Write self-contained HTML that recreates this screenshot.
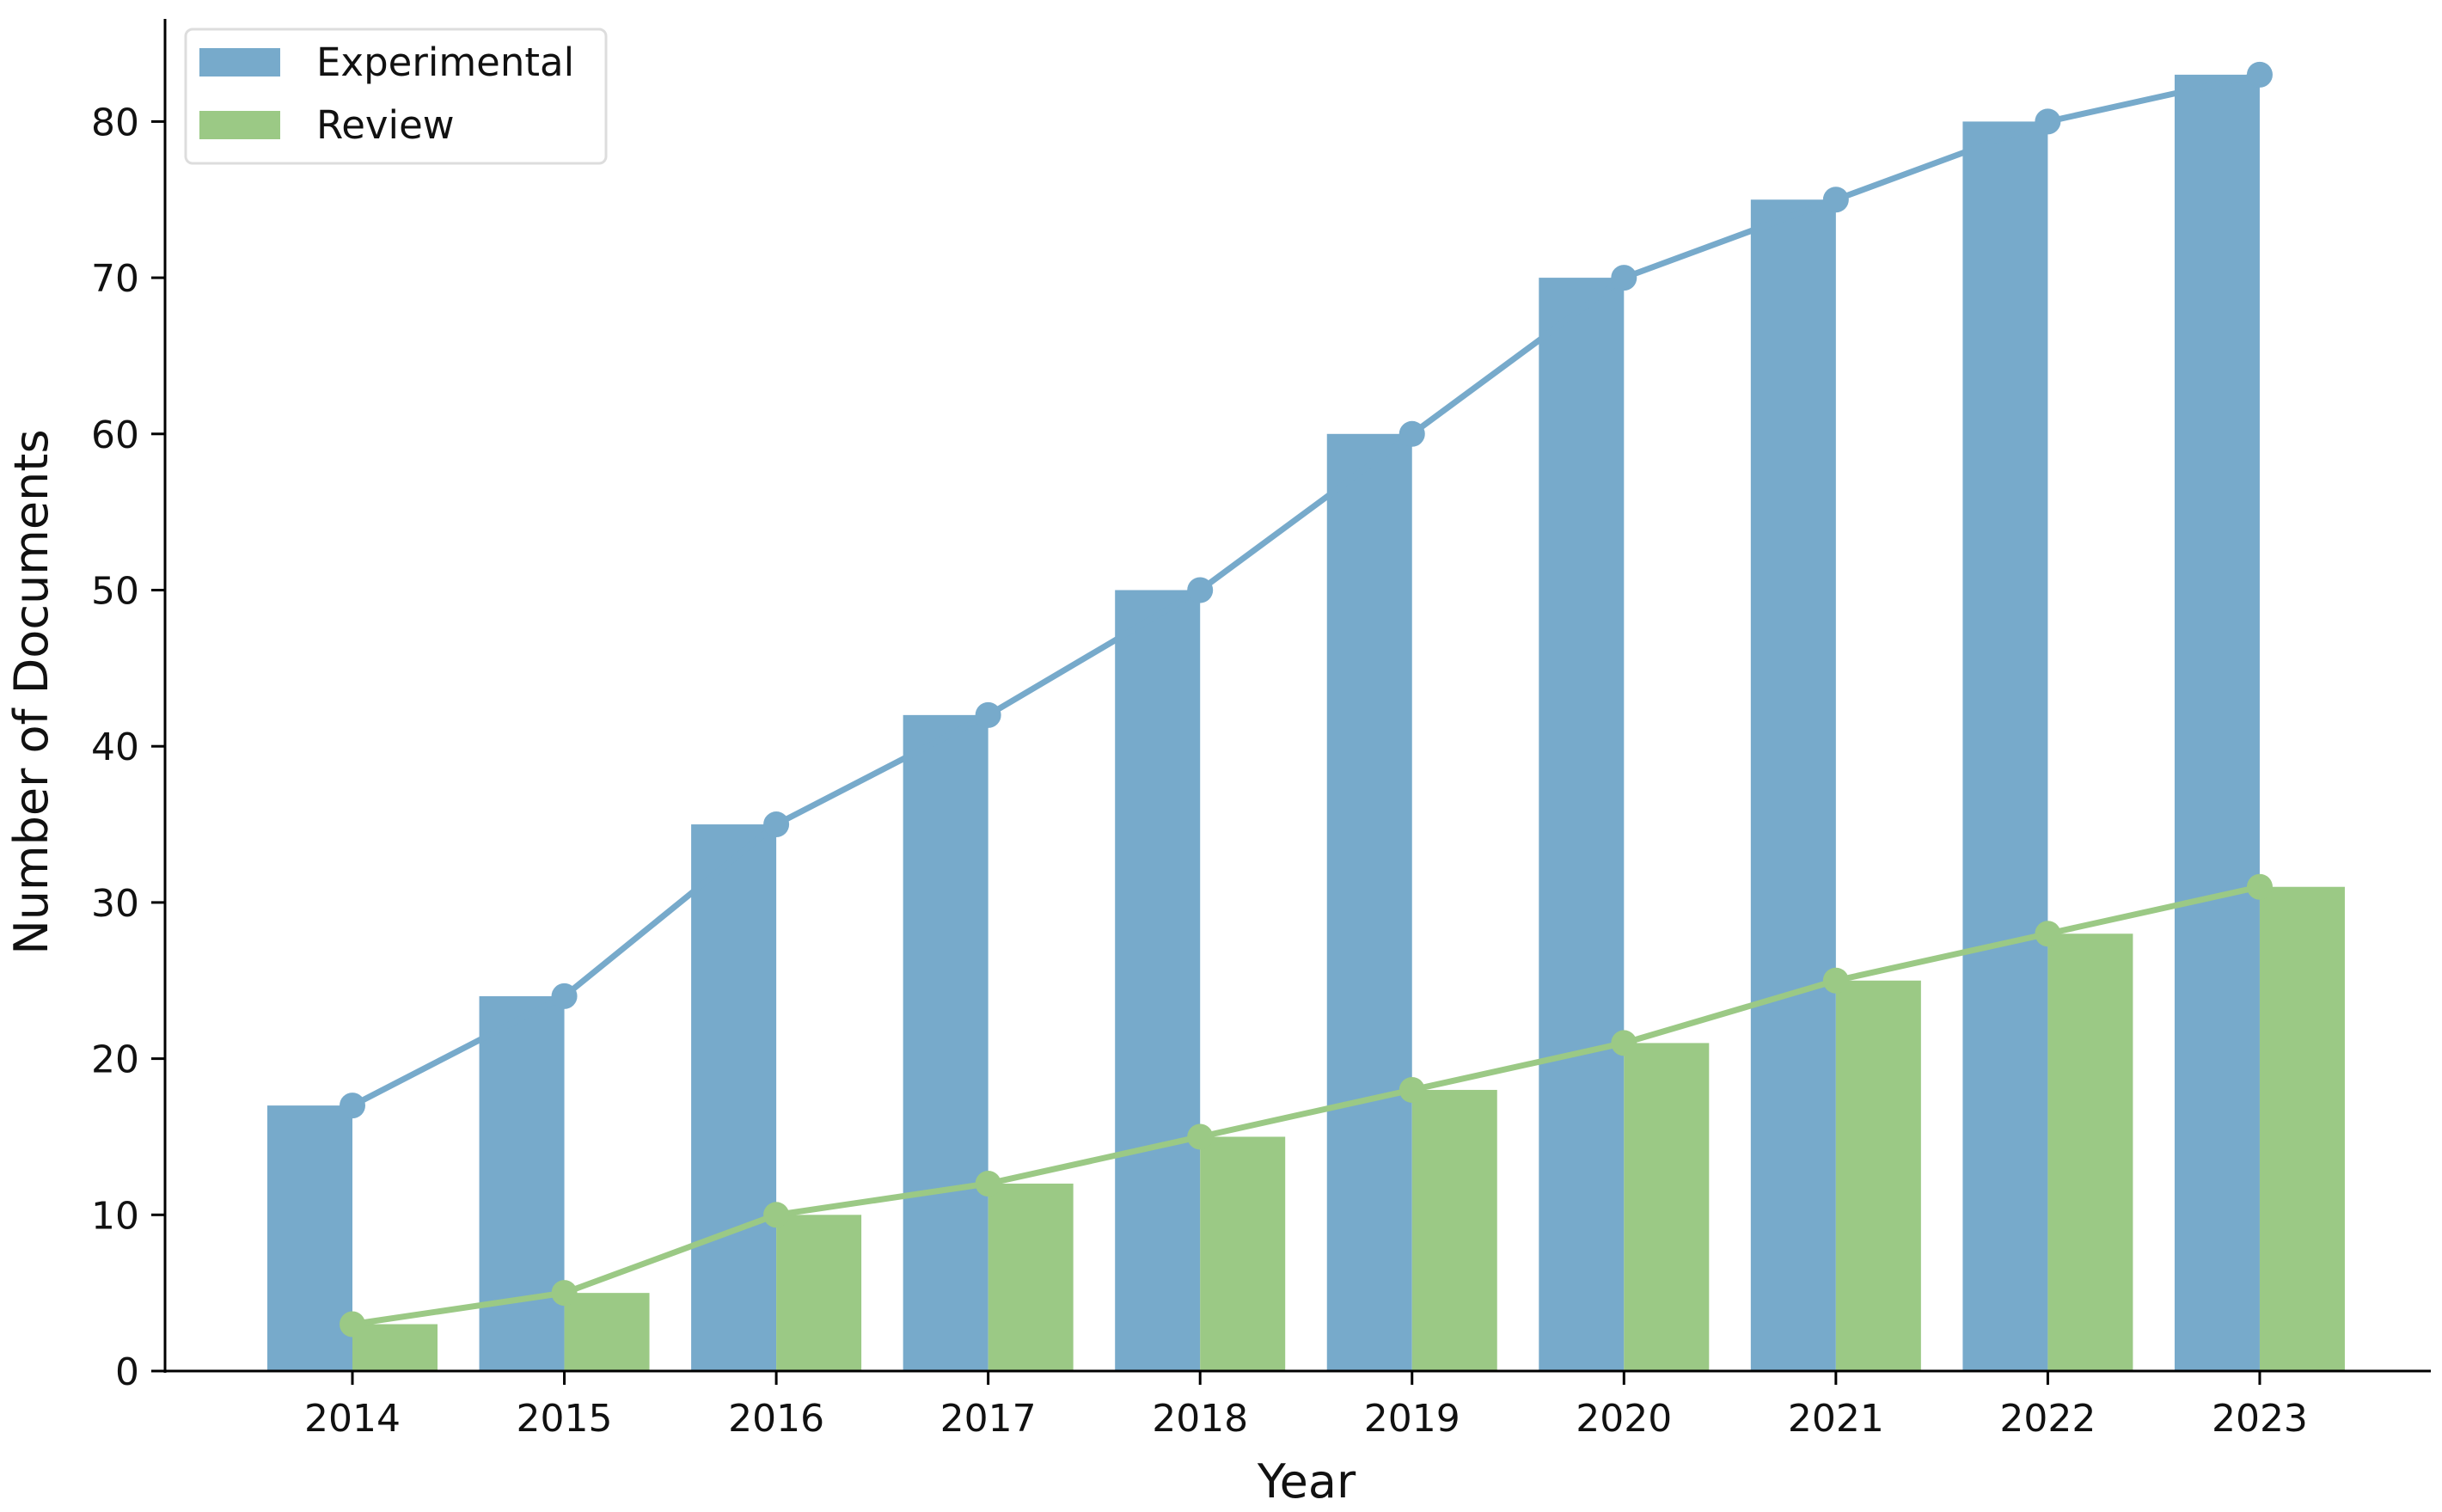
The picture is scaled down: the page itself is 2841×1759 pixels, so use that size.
<!DOCTYPE html>
<html><head><meta charset="utf-8"><style>
html,body{margin:0;padding:0;background:#fff;}
svg{display:block;font-family:"DejaVu Sans","Liberation Sans",sans-serif;}
</style></head><body>
<svg id="chart" width="2841" height="1759" viewBox="0 0 2841 1759">
<g id="bars"></g>
<g id="lines"></g>
<g id="axes"></g>
<text x="1520" y="1742" font-size="54" text-anchor="middle" fill="#111">Year</text>
<text transform="translate(55,805) rotate(-90)" font-size="54" text-anchor="middle" fill="#111">Number of Documents</text>
<g>
<rect x="216" y="34" width="489" height="156" rx="8" fill="#fff" stroke="#ddd" stroke-width="3"/>
<rect x="232" y="56" width="94" height="33" fill="#77aacb"/>
<text x="368" y="88" font-size="45" fill="#111">Experimental</text>
<rect x="232" y="129" width="94" height="33" fill="#9bc985"/>
<text x="368" y="161" font-size="45" fill="#111">Review</text>
</g>
</svg>
<script>
const years = ["2014","2015","2016","2017","2018","2019","2020","2021","2022","2023"];
const experimental = [17,24,35,42,50,60,70,75,80,83];
const review = [3,5,10,12,15,18,21,25,28,31];
const yTicks = [0,10,20,30,40,50,60,70,80];

const NS="http://www.w3.org/2000/svg";
const x0=410, step=246.55, y0=1595, ppu=18.17, bw=99;
function xs(i){return x0+i*step;}
function ys(v){return y0-v*ppu;}
function mk(tag,attrs,parent){const e=document.createElementNS(NS,tag);for(const k in attrs)e.setAttribute(k,attrs[k]);parent.appendChild(e);return e;}
const bars=document.getElementById('bars'), lines=document.getElementById('lines'), axes=document.getElementById('axes');
years.forEach((y,i)=>{
  const b1=mk('rect',{x:xs(i)-bw,y:ys(experimental[i]),width:bw,height:y0-ys(experimental[i]),fill:'#77aacb'},bars);
  
  
  const b2=mk('rect',{x:xs(i),y:ys(review[i]),width:bw,height:y0-ys(review[i]),fill:'#9bc985'},bars);
  
  
});
[[experimental,'#77aacb','experimental'],[review,'#9bc985','review']].forEach(([arr,c,n])=>{
  const pl=mk('polyline',{points:arr.map((v,i)=>xs(i)+','+ys(v)).join(' '),fill:'none',stroke:c,'stroke-width':7,'stroke-linejoin':'round'},lines);
  
  
  arr.forEach((v,i)=>{
    const p=mk('circle',{cx:xs(i),cy:ys(v),r:15,fill:c},lines);
    
    
  });
});
const ya=mk('line',{x1:192,y1:22,x2:192,y2:1597,stroke:'#000','stroke-width':3},axes);


const xa=mk('line',{x1:190,y1:1595,x2:2828,y2:1595,stroke:'#000','stroke-width':3},axes);


yTicks.forEach(t=>{
  mk('line',{x1:176,y1:ys(t),x2:192,y2:ys(t),stroke:'#000','stroke-width':3},axes);
  const tl=mk('text',{x:162,y:ys(t)+16,'font-size':44,'text-anchor':'end',fill:'#111'},axes);
  tl.textContent=t;
  
  
});
years.forEach((y,i)=>{
  mk('line',{x1:xs(i),y1:1595,x2:xs(i),y2:1611,stroke:'#000','stroke-width':3},axes);
  const tl=mk('text',{x:xs(i),y:1665,'font-size':44,'text-anchor':'middle',fill:'#111'},axes);
  tl.textContent=y;
  
  
});
</script>
</body></html>
